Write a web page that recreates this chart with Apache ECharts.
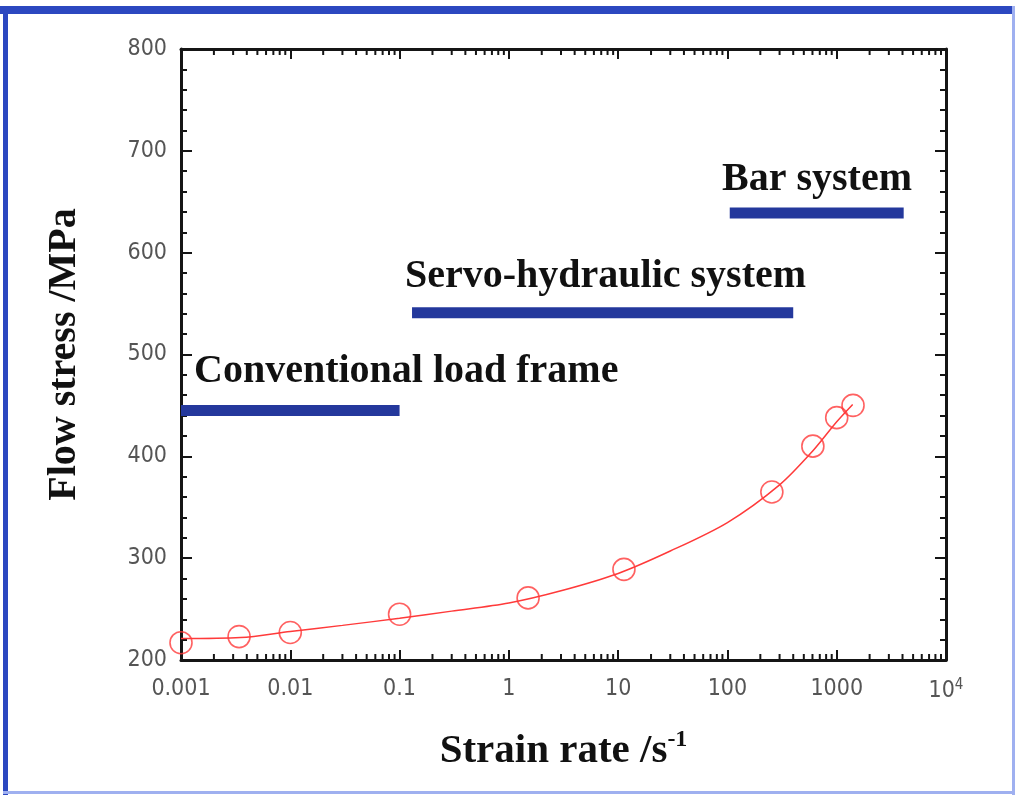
<!DOCTYPE html>
<html>
<head>
<meta charset="utf-8">
<script src="https://cdn.jsdelivr.net/npm/echarts@6/dist/echarts.min.js"></script>
<style>
html,body{margin:0;padding:0;background:#fff;}
#chart{width:1015px;height:795px;}
</style>
</head>
<body>
<div id="chart"></div>
<script>
// ---- data ----
var pointX = [0.001, 0.0034, 0.01, 0.1, 1.5, 11.3, 255, 605, 1000, 1410];
var pointY = [217, 223, 227, 245, 261, 289, 365, 410, 438, 450];

var fitX = [0.001, 0.0035, 0.01, 0.03, 0.1, 0.3, 1, 3, 10, 30, 100, 300, 600, 1000, 1400];
var fitY = [221, 222, 228, 234, 241, 248, 256, 268, 285, 307, 335, 372, 405, 434, 451];

var convX = [0.001, 0.1];      var convY = 445;
var servoX = [0.13, 400];      var servoY = 541;
var barX = [105, 4100];        var barY = 639;

var xTickLabels = ['0.001', '0.01', '0.1', '1', '10', '100', '1000', '10{sup|4}'];
var xTickValues = [0.001, 0.01, 0.1, 1, 10, 100, 1000, 10000];
var minorDigits = [2, 3, 4, 5, 6, 7, 8, 9];
var decades = [0.001, 0.01, 0.1, 1, 10, 100, 1000];

var minorTicks = [];
decades.forEach(function (d) { minorDigits.forEach(function (k) { minorTicks.push([k * d]); }); });

function pairs(xs, ys) { return xs.map(function (x, i) { return [x, ys[i]]; }); }
function hline(xs, y) { return xs.map(function (x) { return [x, y]; }); }

var serif = '"Liberation Serif", "Times New Roman", serif';
var tickFont = '"DejaVu Sans Condensed", "Liberation Sans", sans-serif';
var axisCol = '#151515';
var blue = '#24389c';
var red = '#ff3a3a';

var chart = echarts.init(document.getElementById('chart'));

var option = {
  backgroundColor: '#ffffff',
  animation: false,
  grid: { left: 181, top: 49, right: 69, bottom: 135, containLabel: false },
  xAxis: [{
    type: 'log', logBase: 10, min: 0.001, max: 10000, splitNumber: 7,
    position: 'bottom',
    name: 'Strain rate /s{sup|-1}',
    nameLocation: 'middle', nameGap: 68,
    nameTextStyle: {
      fontFamily: serif, fontWeight: 'bold', fontSize: 41, color: '#111',
      rich: { sup: { fontFamily: serif, fontWeight: 'bold', fontSize: 24, color: '#111', verticalAlign: 'top', padding: [0, 0, 22, 0] } }
    },
    axisLine: { show: true, lineStyle: { color: axisCol, width: 3 } },
    axisTick: { show: true, inside: true, length: 10, lineStyle: { color: axisCol, width: 2 } },
    splitLine: { show: false },
    axisLabel: {
      margin: 18, fontFamily: tickFont, fontSize: 23, color: '#555',
      formatter: function (v) {
        for (var i = 0; i < xTickValues.length; i++) {
          if (Math.abs(Math.log10(v) - Math.log10(xTickValues[i])) < 1e-6) return xTickLabels[i];
        }
        return '';
      },
      rich: { sup: { fontFamily: tickFont, fontSize: 15, color: '#555', verticalAlign: 'top', padding: [0, 0, 12, 0] } }
    }
  }, {
    type: 'log', logBase: 10, min: 0.001, max: 10000, splitNumber: 7,
    position: 'top',
    axisLine: { show: true, lineStyle: { color: axisCol, width: 3 } },
    axisTick: { show: true, inside: true, length: 10, lineStyle: { color: axisCol, width: 2 } },
    axisLabel: { show: false },
    splitLine: { show: false }
  }],
  yAxis: [{
    type: 'value', min: 200, max: 800, interval: 100,
    position: 'left',
    name: 'Flow stress /MPa',
    nameLocation: 'middle', nameGap: 96, nameRotate: 90,
    nameTextStyle: { fontFamily: serif, fontWeight: 'bold', fontSize: 40, color: '#111' },
    axisLine: { show: true, lineStyle: { color: axisCol, width: 3 } },
    axisTick: { show: true, inside: true, length: 11, lineStyle: { color: axisCol, width: 2 } },
    minorTick: { show: true, splitNumber: 5, length: 6, lineStyle: { color: axisCol, width: 2 } },
    splitLine: { show: false },
    axisLabel: { margin: 14, fontFamily: tickFont, fontSize: 23, color: '#555' }
  }, {
    type: 'value', min: 200, max: 800, interval: 100,
    position: 'right',
    axisLine: { show: true, lineStyle: { color: axisCol, width: 3 } },
    axisTick: { show: true, inside: true, length: 11, lineStyle: { color: axisCol, width: 2 } },
    minorTick: { show: true, splitNumber: 5, length: 6, lineStyle: { color: axisCol, width: 2 } },
    splitLine: { show: false },
    axisLabel: { show: false }
  }],
  series: [
    {
      type: 'custom', xAxisIndex: 0, yAxisIndex: 0, silent: true, clip: false,
      data: minorTicks,
      renderItem: function (params, api) {
        var x = api.value(0);
        var b = api.coord([x, 200]);
        var t = api.coord([x, 800]);
        return {
          type: 'group',
          children: [
            { type: 'line', shape: { x1: b[0], y1: b[1], x2: b[0], y2: b[1] - 6 }, style: { stroke: axisCol, lineWidth: 2 } },
            { type: 'line', shape: { x1: t[0], y1: t[1], x2: t[0], y2: t[1] + 6 }, style: { stroke: axisCol, lineWidth: 2 } }
          ]
        };
      }
    },
    {
      name: 'Conventional load frame', type: 'line', data: hline(convX, convY),
      symbol: 'none', lineStyle: { color: blue, width: 11 }, silent: true, z: 3
    },
    {
      name: 'Servo-hydraulic system', type: 'line', data: hline(servoX, servoY),
      symbol: 'none', lineStyle: { color: blue, width: 11 }, silent: true, z: 3
    },
    {
      name: 'Bar system', type: 'line', data: hline(barX, barY),
      symbol: 'none', lineStyle: { color: blue, width: 11 }, silent: true, z: 3
    },
    {
      name: 'fit', type: 'line', data: pairs(fitX, fitY), smooth: 0.3,
      symbol: 'none', lineStyle: { color: red, width: 1.5 }, silent: true, z: 4
    },
    {
      name: 'data', type: 'scatter', data: pairs(pointX, pointY),
      symbol: 'circle', symbolSize: 22,
      itemStyle: { color: 'rgba(0,0,0,0)', borderColor: red, borderWidth: 1.6 },
      silent: true, z: 5
    }
  ],
  graphic: [
    { type: 'rect', shape: { x: 0, y: 6, width: 1015, height: 8 }, style: { fill: '#2c48c0' }, silent: true },
    { type: 'rect', shape: { x: 3, y: 6, width: 5, height: 789 }, style: { fill: '#2c48c0' }, silent: true },
    { type: 'rect', shape: { x: 3, y: 791, width: 1012, height: 3 }, style: { fill: '#9fb0f0' }, silent: true },
    { type: 'rect', shape: { x: 1012, y: 6, width: 3, height: 789 }, style: { fill: '#9fb0f0' }, silent: true },
    { type: 'text', left: 194, top: 352, style: { text: 'Conventional load frame', font: 'bold 40px ' + serif, fill: '#111' }, silent: true },
    { type: 'text', left: 405, top: 257, style: { text: 'Servo-hydraulic system', font: 'bold 40px ' + serif, fill: '#111' }, silent: true },
    { type: 'text', left: 722, top: 160, style: { text: 'Bar system', font: 'bold 40px ' + serif, fill: '#111' }, silent: true }
  ]
};

chart.setOption(option);
</script>
</body>
</html>
